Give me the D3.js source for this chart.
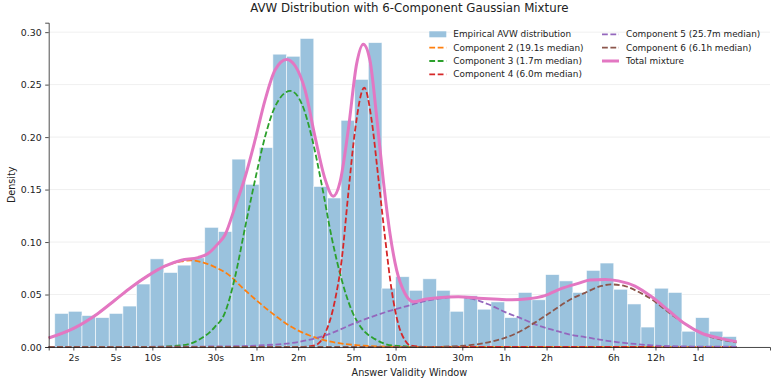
<!DOCTYPE html>
<html>
<head>
<meta charset="utf-8">
<script src="https://cdn.jsdelivr.net/npm/d3@7"></script>
<style>
  body { margin: 0; background: #fff; }
  text { font-family: "DejaVu Sans", sans-serif; fill: #222; }
</style>
</head>
<body>
<div class="avw"></div>
<script>
// x values are log10(1 + seconds), y values are density

// histogram: 50 equal bins in log10(1+s)
const binLo = 0.344, binStep = 0.0974;
const histDensity = [
  0.032, 0.034, 0.030, 0.028, 0.032, 0.039, 0.060, 0.084, 0.071, 0.078,
  0.085, 0.114, 0.110, 0.179, 0.155, 0.190, 0.279, 0.277, 0.294, 0.153,
  0.142, 0.216, 0.255, 0.290, 0.056, 0.067, 0.054, 0.065, 0.054, 0.034,
  0.049, 0.036, 0.043, 0.028, 0.052, 0.045, 0.069, 0.063, 0.052, 0.073,
  0.080, 0.055, 0.041, 0.019, 0.056, 0.052, 0.015, 0.028, 0.015, 0.010
];

const comp2 = [[0.301, 0.0086], [0.475, 0.0175], [0.653, 0.032], [0.773, 0.0445], [0.891, 0.057],
  [1.011, 0.068], [1.130, 0.077], [1.248, 0.0815], [1.320, 0.0825], [1.416, 0.080], [1.511, 0.0747],
  [1.594, 0.068], [1.680, 0.057], [1.798, 0.043], [1.918, 0.030], [2.037, 0.019], [2.156, 0.0114],
  [2.275, 0.0064], [2.512, 0.0016], [2.751, 0.0003], [3.2, 0], [5.215, 0]];

const comp3 = [[0.301, 0], [1.0, 0], [1.248, 0.0016], [1.368, 0.0064], [1.487, 0.019], [1.558, 0.032],
  [1.632, 0.0667], [1.704, 0.114], [1.775, 0.159], [1.846, 0.200], [1.918, 0.229], [2.027, 0.244],
  [2.108, 0.232], [2.180, 0.200], [2.251, 0.155], [2.323, 0.104], [2.394, 0.064], [2.465, 0.035],
  [2.536, 0.018], [2.632, 0.0075], [2.751, 0.0016], [3.0, 0], [5.215, 0]];

const comp4 = [[0.301, 0], [2.1, 0], [2.204, 0.0016], [2.275, 0.0127], [2.346, 0.0445], [2.394, 0.083],
  [2.441, 0.146], [2.489, 0.206], [2.555, 0.247], [2.608, 0.216], [2.655, 0.162], [2.703, 0.105],
  [2.751, 0.054], [2.798, 0.022], [2.846, 0.0064], [2.882, 0.0016], [3.0, 0], [5.215, 0]];

const comp5 = [[0.301, 0], [1.5, 0.0005], [1.798, 0.0015], [2.037, 0.0038], [2.275, 0.011], [2.512, 0.024],
  [2.751, 0.035], [2.86, 0.039], [2.966, 0.043], [3.084, 0.046], [3.227, 0.0478], [3.323, 0.046],
  [3.441, 0.0407], [3.561, 0.0333], [3.680, 0.027], [3.798, 0.0205], [3.918, 0.0157], [4.037, 0.0115],
  [4.132, 0.0095], [4.251, 0.0067], [4.370, 0.0045], [4.489, 0.0029], [4.608, 0.0016], [4.846, 0.0005],
  [5.215, 0.0002]];

const comp6 = [[0.301, 0], [3.0, 0], [3.275, 0.0013], [3.441, 0.0045], [3.561, 0.0087], [3.680, 0.0157],
  [3.798, 0.0253], [3.918, 0.0359], [4.037, 0.046], [4.132, 0.0516], [4.251, 0.0583], [4.323, 0.0596],
  [4.418, 0.058], [4.513, 0.0526], [4.608, 0.0455], [4.727, 0.0333], [4.846, 0.0221], [4.966, 0.0131],
  [5.084, 0.0077], [5.215, 0.0045]];

const total = [[0.301, 0.0086], [0.475, 0.0175], [0.653, 0.032], [0.773, 0.0445], [0.891, 0.057],
  [1.011, 0.068], [1.130, 0.077], [1.248, 0.0826], [1.368, 0.0852], [1.439, 0.089], [1.511, 0.0985],
  [1.561, 0.107], [1.632, 0.1335], [1.704, 0.162], [1.775, 0.197], [1.846, 0.235], [1.918, 0.264],
  [2.001, 0.274], [2.061, 0.268], [2.132, 0.245], [2.204, 0.200], [2.275, 0.160], [2.334, 0.1436],
  [2.382, 0.157], [2.441, 0.207], [2.501, 0.270], [2.548, 0.2885], [2.596, 0.273], [2.644, 0.219],
  [2.691, 0.159], [2.739, 0.108], [2.787, 0.073], [2.846, 0.051], [2.906, 0.043], [2.989, 0.0455],
  [3.084, 0.047], [3.227, 0.0478], [3.370, 0.0465], [3.513, 0.0455], [3.609, 0.045], [3.727, 0.046],
  [3.846, 0.049], [3.966, 0.0558], [4.084, 0.0606], [4.168, 0.0638], [4.275, 0.0644], [4.370, 0.063],
  [4.489, 0.058], [4.608, 0.0478], [4.727, 0.035], [4.846, 0.0221], [4.966, 0.0131], [5.084, 0.0087],
  [5.215, 0.0051]];

const tickSeconds = [2, 5, 10, 30, 60, 120, 300, 600, 1800, 3600, 7200, 21600, 43200, 86400];
const tickLabels = ["2s", "5s", "10s", "30s", "1m", "2m", "5m", "10m", "30m", "1h", "2h", "6h", "12h", "1d"];
const yTicks = [0, 0.05, 0.10, 0.15, 0.20, 0.25, 0.30];

const series = [
  {name: "Component 2 (19.1s median)", data: comp2, color: "#ff7f0e"},
  {name: "Component 3 (1.7m median)", data: comp3, color: "#2ca02c"},
  {name: "Component 4 (6.0m median)", data: comp4, color: "#d62728"},
  {name: "Component 5 (25.7m median)", data: comp5, color: "#9467bd"},
  {name: "Component 6 (6.1h median)", data: comp6, color: "#8c564b"}
];

// set up size
const margin = {top: 22.7, right: 8, bottom: 37, left: 48.7},
  width = 778 - margin.left - margin.right,
  height = 384 - margin.top - margin.bottom;

const x = d3.scaleLinear()
  .domain([0.301, 5.4536])
  .range([0, width]);

const y = d3.scaleLinear()
  .domain([0, 0.309])
  .range([height, 0]);

const svg = d3.select(".avw").append("svg")
    .attr("width", 778)
    .attr("height", 384)
  .append("g")
    .attr("transform", "translate(" + margin.left + "," + margin.top + ")");

// grid
svg.append("g")
  .selectAll("line")
  .data(yTicks)
  .join("line")
    .attr("x1", 0)
    .attr("x2", width)
    .attr("y1", d => y(d))
    .attr("y2", d => y(d))
    .attr("stroke", "#ebebeb")
    .attr("stroke-width", 0.8);

// histogram
svg.append("g")
  .selectAll("rect")
  .data(histDensity)
  .join("rect")
    .attr("x", (d, i) => x(binLo + i * binStep))
    .attr("width", x(binLo + binStep) - x(binLo))
    .attr("y", d => y(d))
    .attr("height", d => y(0) - y(d))
    .attr("fill", "#9ac2dd")
    .attr("stroke", "#fff")
    .attr("stroke-opacity", 0.7)
    .attr("stroke-width", 0.8);

const line = d3.line()
  .x(d => x(d[0]))
  .y(d => y(d[1]))
  .curve(d3.curveMonotoneX);

series.forEach(s => {
  svg.append("path")
    .datum(s.data)
    .attr("d", line)
    .attr("fill", "none")
    .attr("stroke", s.color)
    .attr("stroke-width", 1.8)
    .attr("stroke-dasharray", "5.8,2.6");
});

svg.append("path")
  .datum(total)
  .attr("d", line)
  .attr("fill", "none")
  .attr("stroke", "#e377c2")
  .attr("stroke-width", 3)
  .attr("stroke-linejoin", "round");

// axes
const xAxis = d3.axisBottom(x)
  .tickValues(tickSeconds.map(s => Math.log10(1 + s)))
  .tickFormat((d, i) => tickLabels[i])
  .tickSizeOuter(0)
  .tickSize(3.5)
  .tickPadding(3.5);

const yAxis = d3.axisLeft(y)
  .tickValues(yTicks)
  .tickFormat(d3.format(".2f"))
  .tickSizeOuter(0)
  .tickSize(3.5)
  .tickPadding(3.5);

const gx = svg.append("g")
  .attr("transform", "translate(0," + height + ")")
  .call(xAxis);

const gy = svg.append("g")
  .call(yAxis);

[gx, gy].forEach(g => {
  g.selectAll("text").style("font-size", "9.4px").attr("fill", "#222");
  g.selectAll("line").attr("stroke", "#222").attr("stroke-width", 0.8);
  g.select(".domain").attr("stroke", "#222").attr("stroke-width", 0.8);
});

svg.append("text")
  .attr("x", width / 2)
  .attr("y", height + 29)
  .attr("text-anchor", "middle")
  .style("font-size", "9.7px")
  .text("Answer Validity Window");

svg.append("text")
  .attr("transform", "translate(" + (-margin.left + 15) + "," + (height / 2) + ") rotate(-90)")
  .attr("text-anchor", "middle")
  .style("font-size", "9.6px")
  .text("Density");

svg.append("text")
  .attr("x", width / 2)
  .attr("y", -10.5)
  .attr("text-anchor", "middle")
  .style("font-size", "11.8px")
  .text("AVW Distribution with 6-Component Gaussian Mixture");

// legend
const legendItems = [
  {name: "Empirical AVW distribution", type: "patch", color: "#9ac2dd"},
  series[0], series[1], series[2], series[3], series[4],
  {name: "Total mixture", type: "total", color: "#e377c2"}
];

const legend = svg.append("g");
legendItems.forEach((d, i) => {
  const col = i < 4 ? 0 : 1,
    row = i < 4 ? i : i - 4,
    lx = (col === 0 ? 429.3 : 602) - margin.left,
    ly = 34.3 + row * 13.35 - margin.top;
  if (d.type === "patch") {
    legend.append("rect")
      .attr("x", lx).attr("y", ly - 3)
      .attr("width", 17).attr("height", 6)
      .attr("fill", d.color);
  } else if (d.type === "total") {
    legend.append("line")
      .attr("x1", lx).attr("x2", lx + 17)
      .attr("y1", ly).attr("y2", ly)
      .attr("stroke", d.color).attr("stroke-width", 3);
  } else {
    legend.append("line")
      .attr("x1", lx).attr("x2", lx + 17)
      .attr("y1", ly).attr("y2", ly)
      .attr("stroke", d.color).attr("stroke-width", 1.8)
      .attr("stroke-dasharray", "5.8,2.6");
  }
  legend.append("text")
    .attr("x", lx + 24)
    .attr("y", ly)
    .attr("dy", "0.35em")
    .style("font-size", "8.9px")
    .text(d.name);
});
</script>
</body>
</html>
